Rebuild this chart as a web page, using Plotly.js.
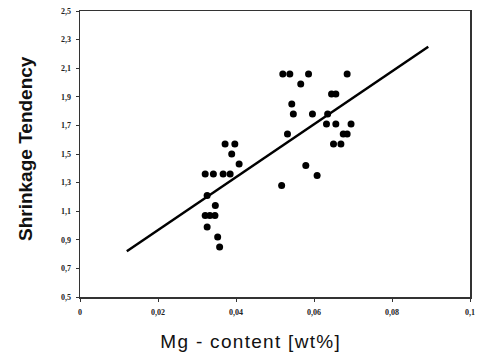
<!DOCTYPE html>
<html>
<head>
<meta charset="utf-8">
<script src="https://cdn.plot.ly/plotly-3.0.1.min.js"></script>
<style>
html,body{margin:0;padding:0;background:#fff;}
#chart{width:481px;height:356px;}
g.annotation[data-index="0"] text{letter-spacing:1.3px;}
</style>
</head>
<body>
<div id="chart"></div>
<script>
// Measured samples: Mg content [wt%] vs shrinkage tendency
const mgContent = [
  0.0372, 0.0397, 0.0389, 0.0408, 0.0321, 0.0342, 0.0367, 0.0385,
  0.0326, 0.0347, 0.0321, 0.0333, 0.0346, 0.0326, 0.0353, 0.0358,
  0.0520, 0.0538, 0.0586, 0.0685, 0.0566, 0.0645, 0.0656, 0.0543,
  0.0547, 0.0596, 0.0635, 0.0532, 0.0632, 0.0656, 0.0695, 0.0675,
  0.0685, 0.0650, 0.0669, 0.0579, 0.0608, 0.0517
];
const shrinkage = [
  1.57, 1.57, 1.50, 1.43, 1.36, 1.36, 1.36, 1.36,
  1.21, 1.14, 1.07, 1.07, 1.07, 0.99, 0.92, 0.85,
  2.06, 2.06, 2.06, 2.06, 1.99, 1.92, 1.92, 1.85,
  1.78, 1.78, 1.78, 1.64, 1.71, 1.71, 1.71, 1.64,
  1.64, 1.57, 1.57, 1.42, 1.35, 1.28
];
// Regression line end points
const fitX = [0.012, 0.0893];
const fitY = [0.82, 2.25];

const xTickVals = [0, 0.02, 0.04, 0.06, 0.08, 0.1];
const xTickText = ["0", "0,02", "0,04", "0,06", "0,08", "0,1"];
const yTickVals = [0.5, 0.7, 0.9, 1.1, 1.3, 1.5, 1.7, 1.9, 2.1, 2.3, 2.5];
const yTickText = ["0,5", "0,7", "0,9", "1,1", "1,3", "1,5", "1,7", "1,9", "2,1", "2,3", "2,5"];

const xTitle = "Mg - content [wt%]";
const yTitle = "Shrinkage Tendency";

const tickFont = {family: "Liberation Serif, Times New Roman, serif", size: 8, color: "#222", weight: "bold"};

const traces = [
  {
    x: fitX, y: fitY, type: "scatter", mode: "lines",
    line: {color: "#000", width: 2.5},
    hoverinfo: "skip", showlegend: false
  },
  {
    x: mgContent, y: shrinkage, type: "scatter", mode: "markers",
    marker: {symbol: "circle", size: 7, color: "#000"},
    showlegend: false
  }
];

const layout = {
  width: 481, height: 356,
  margin: {l: 80, r: 11, t: 11, b: 59},
  paper_bgcolor: "#fff", plot_bgcolor: "#fff",
  showlegend: false,
  xaxis: {
    range: [0, 0.1], tickvals: xTickVals, ticktext: xTickText,
    showgrid: false, zeroline: false,
    showline: true, linecolor: "#333", linewidth: 1.5, mirror: true,
    ticks: "outside", ticklen: 3, tickcolor: "#333", tickwidth: 1,
    tickfont: tickFont, ticklabelstandoff: 4
  },
  yaxis: {
    range: [0.5, 2.5], tickvals: yTickVals, ticktext: yTickText,
    showgrid: false, zeroline: false,
    showline: true, linecolor: "#333", linewidth: 1.5, mirror: true,
    ticks: "outside", ticklen: 3, tickcolor: "#333", tickwidth: 1,
    tickfont: tickFont, ticklabelstandoff: 3
  },
  annotations: [
    {
      text: xTitle, xref: "paper", yref: "paper",
      x: (250 - 80) / 390, y: -(341.5 - 297) / 286,
      xanchor: "center", yanchor: "middle", showarrow: false,
      font: {family: "Liberation Sans, Arial, sans-serif", size: 19, color: "#111"}
    },
    {
      text: yTitle, xref: "paper", yref: "paper",
      x: -(80 - 25.5) / 390, y: (297 - 148.5) / 286,
      xanchor: "center", yanchor: "middle", showarrow: false, textangle: -90,
      font: {family: "Liberation Sans, Arial, sans-serif", size: 19, color: "#111", weight: "bold"}
    }
  ]
};

Plotly.newPlot("chart", traces, layout, {displayModeBar: false, staticPlot: true});
</script>
</body>
</html>
